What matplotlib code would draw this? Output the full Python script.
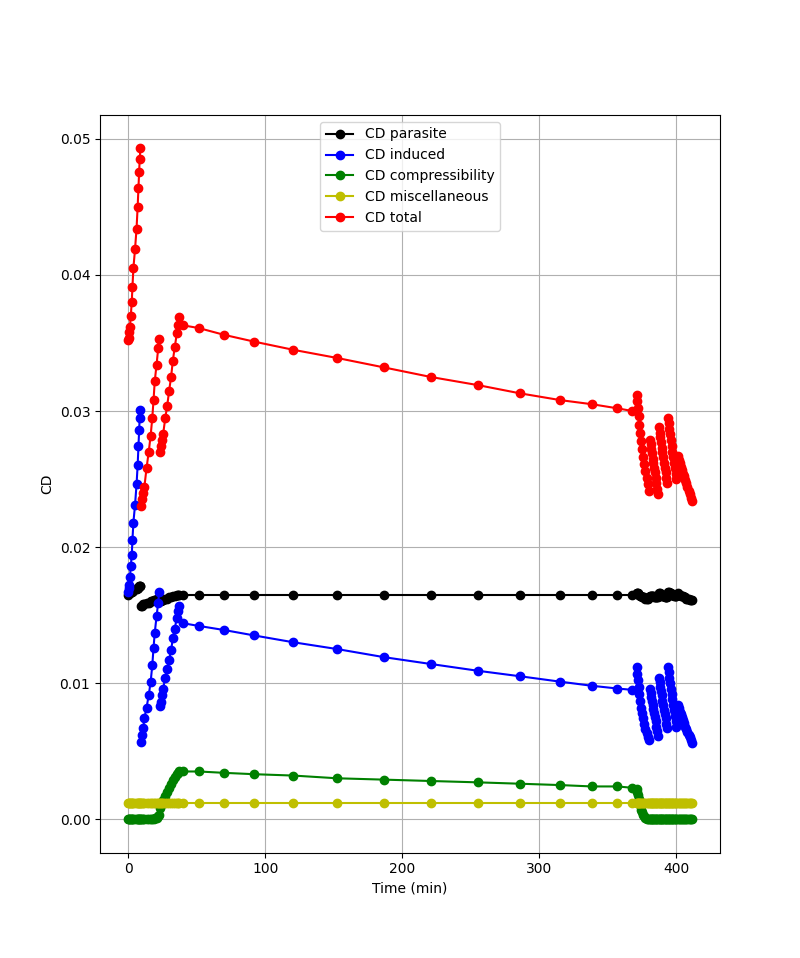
import matplotlib
matplotlib.use("Agg")
import matplotlib.pyplot as plt
import numpy as np

# Number of points in each mission segment: climb 1, climb 2, climb 3, cruise, descent A-E
segment_lengths = [15, 13, 13, 14, 14, 12, 12, 12, 14]

time_min = [
    0.0, 0.5, 0.8, 1.3, 1.9, 2.6, 3.1, 3.8, 5.0, 6.1, 6.9, 7.5, 8.0, 8.4, 8.9,
    9.1, 10.0, 11.0, 11.8, 13.4, 15.0, 16.4, 17.6, 18.5, 19.4, 20.7, 21.9, 22.6,
    23.2, 23.8, 24.6, 25.5, 27.1, 28.5, 29.9, 31.3, 32.6, 34.0, 35.5, 36.7, 37.4,
    40.0, 51.5, 70.0, 92.0, 120.5, 152.5, 187.0, 221.0, 255.5, 286.0, 315.5, 338.5, 357.0, 368.0,
    371.3, 371.6, 372.1, 372.6, 373.2, 373.8, 374.5, 375.2, 375.9, 376.7, 377.5, 378.4, 379.3, 380.2,
    380.9, 381.4, 381.9, 382.4, 382.9, 383.4, 383.9, 384.5, 385.0, 385.6, 386.2, 386.9,
    387.4, 387.9, 388.4, 388.9, 389.5, 390.0, 390.5, 391.1, 391.7, 392.2, 392.8, 393.3,
    394.0, 394.5, 395.0, 395.5, 396.1, 396.6, 397.2, 397.7, 398.3, 398.9, 399.5, 400.1,
    401.0, 401.8, 402.6, 403.4, 404.2, 405.0, 405.8, 406.6, 407.4, 408.2, 409.0, 409.8, 410.6, 411.4,
]

cd_parasite = [
    0.0165, 0.0166, 0.0166, 0.0166, 0.0167, 0.0167, 0.0168, 0.0168, 0.0169, 0.0169, 0.0170, 0.0170, 0.0171, 0.0171, 0.0171,
    0.0157, 0.0157, 0.0158, 0.0158, 0.0159, 0.0159, 0.0160, 0.0160, 0.0161, 0.0161, 0.0162, 0.0162, 0.0163,
    0.0160, 0.0160, 0.0161, 0.0161, 0.0162, 0.0162, 0.0163, 0.0163, 0.0164, 0.0164, 0.0165, 0.0165, 0.0165,
    0.0165, 0.0165, 0.0165, 0.0165, 0.0165, 0.0165, 0.0165, 0.0165, 0.0165, 0.0165, 0.0165, 0.0165, 0.0165, 0.0165,
    0.0166, 0.0166, 0.0166, 0.0165, 0.0165, 0.0164, 0.0164, 0.0163, 0.0163, 0.0163, 0.0162, 0.0162, 0.0162, 0.0163,
    0.0164, 0.0164, 0.0164, 0.0164, 0.0164, 0.0164, 0.0163, 0.0163, 0.0163, 0.0163, 0.0163, 0.0163,
    0.0166, 0.0166, 0.0165, 0.0165, 0.0165, 0.0164, 0.0164, 0.0164, 0.0163, 0.0163, 0.0163, 0.0163,
    0.0167, 0.0167, 0.0166, 0.0166, 0.0166, 0.0165, 0.0165, 0.0165, 0.0164, 0.0164, 0.0164, 0.0164,
    0.0166, 0.0165, 0.0165, 0.0164, 0.0164, 0.0164, 0.0163, 0.0163, 0.0162, 0.0162, 0.0162, 0.0161, 0.0161, 0.0161,
]

cd_induced = [
    0.0167, 0.0170, 0.0172, 0.0178, 0.0186, 0.0194, 0.0205, 0.0218, 0.0231, 0.0246, 0.0260, 0.0274, 0.0286, 0.0295, 0.0301,
    0.0057, 0.0062, 0.0067, 0.0074, 0.0082, 0.0091, 0.0101, 0.0113, 0.0126, 0.0137, 0.0149, 0.0159, 0.0167,
    0.0083, 0.0086, 0.0091, 0.0096, 0.0104, 0.0110, 0.0117, 0.0124, 0.0133, 0.0140, 0.0148, 0.0153, 0.0157,
    0.0144, 0.0142, 0.0139, 0.0135, 0.0130, 0.0125, 0.0119, 0.0114, 0.0109, 0.0105, 0.0101, 0.0098, 0.0096, 0.0095,
    0.0112, 0.0107, 0.0102, 0.0097, 0.0092, 0.0087, 0.0082, 0.0078, 0.0074, 0.0070, 0.0066, 0.0063, 0.0060, 0.0058,
    0.0096, 0.0093, 0.0090, 0.0087, 0.0084, 0.0081, 0.0078, 0.0075, 0.0072, 0.0068, 0.0065, 0.0061,
    0.0104, 0.0101, 0.0097, 0.0094, 0.0091, 0.0087, 0.0084, 0.0080, 0.0077, 0.0074, 0.0070, 0.0067,
    0.0112, 0.0108, 0.0104, 0.0100, 0.0096, 0.0092, 0.0088, 0.0084, 0.0080, 0.0076, 0.0072, 0.0068,
    0.0084, 0.0082, 0.0079, 0.0077, 0.0075, 0.0073, 0.0071, 0.0068, 0.0066, 0.0064, 0.0062, 0.0060, 0.0058, 0.0056,
]

cd_compressibility = [
    0.0, 0.0, 0.0, 0.0, 0.0, 0.0, 0.0, 0.0, 0.0, 0.0, 0.0, 0.0, 0.0, 0.0, 0.0,
    0.0, 0.0, 0.0, 0.0, 0.0, 0.0, 0.0, 0.0, 0.0, 0.0001, 0.0001, 0.0002, 0.0003,
    0.0008, 0.0010, 0.0012, 0.0014, 0.0017, 0.0020, 0.0023, 0.0026, 0.0029, 0.0031, 0.0033, 0.0034, 0.0035,
    0.0035, 0.0035, 0.0034, 0.0033, 0.0032, 0.0030, 0.0029, 0.0028, 0.0027, 0.0026, 0.0025, 0.0024, 0.0024, 0.0023,
    0.0022, 0.0020, 0.0018, 0.0015, 0.0012, 0.0010, 0.0007, 0.0005, 0.0003, 0.0002, 0.0001, 0.0, 0.0, 0.0,
    0.0, 0.0, 0.0, 0.0, 0.0, 0.0, 0.0, 0.0, 0.0, 0.0, 0.0, 0.0,
    0.0, 0.0, 0.0, 0.0, 0.0, 0.0, 0.0, 0.0, 0.0, 0.0, 0.0, 0.0,
    0.0, 0.0, 0.0, 0.0, 0.0, 0.0, 0.0, 0.0, 0.0, 0.0, 0.0, 0.0,
    0.0, 0.0, 0.0, 0.0, 0.0, 0.0, 0.0, 0.0, 0.0, 0.0, 0.0, 0.0, 0.0, 0.0,
]

cd_misc_value = 0.0012
cd_miscellaneous = [cd_misc_value] * len(time_min)

cd_total = [
    0.0352, 0.0354, 0.0358, 0.0362, 0.0370, 0.0380, 0.0391, 0.0405, 0.0419, 0.0434, 0.0450, 0.0464, 0.0476, 0.0485, 0.0493,
    0.0230, 0.0235, 0.0240, 0.0244, 0.0258, 0.0270, 0.0282, 0.0295, 0.0308, 0.0322, 0.0334, 0.0346, 0.0353,
    0.0270, 0.0274, 0.0279, 0.0283, 0.0295, 0.0304, 0.0315, 0.0325, 0.0337, 0.0347, 0.0357, 0.0363, 0.0369,
    0.0363, 0.0361, 0.0356, 0.0351, 0.0345, 0.0339, 0.0332, 0.0325, 0.0319, 0.0313, 0.0308, 0.0305, 0.0302, 0.0300,
    0.0312, 0.0307, 0.0302, 0.0296, 0.0290, 0.0284, 0.0278, 0.0272, 0.0266, 0.0261, 0.0256, 0.0251, 0.0246, 0.0241,
    0.0279, 0.0276, 0.0272, 0.0269, 0.0265, 0.0262, 0.0258, 0.0255, 0.0251, 0.0247, 0.0243, 0.0239,
    0.0288, 0.0284, 0.0281, 0.0277, 0.0273, 0.0270, 0.0266, 0.0262, 0.0258, 0.0255, 0.0251, 0.0247,
    0.0295, 0.0291, 0.0287, 0.0283, 0.0279, 0.0274, 0.0270, 0.0266, 0.0262, 0.0258, 0.0254, 0.0250,
    0.0267, 0.0264, 0.0262, 0.0259, 0.0257, 0.0254, 0.0252, 0.0249, 0.0247, 0.0244, 0.0241, 0.0239, 0.0236, 0.0234,
]

series_labels = ["CD parasite", "CD induced", "CD compressibility", "CD miscellaneous", "CD total"]
series_colors = ["k", "b", "g", "y", "r"]

fig = plt.figure(figsize=(8.0, 9.58), dpi=100)
ax = fig.add_subplot(111)

bounds = np.cumsum([0] + segment_lengths)
t_arr = np.asarray(time_min)
all_series = [cd_parasite, cd_induced, cd_compressibility, cd_miscellaneous, cd_total]
for values, label, color in zip(all_series, series_labels, series_colors):
    v_arr = np.asarray(values)
    for k in range(len(segment_lengths)):
        s, e = bounds[k], bounds[k + 1]
        ax.plot(t_arr[s:e], v_arr[s:e], "-o", color=color,
                label=label if k == 0 else None)

ax.set_xlabel("Time (min)")
ax.set_ylabel("CD")
ax.grid(True)
ax.legend(loc="upper center")
fig.savefig("out.png", dpi=100)
